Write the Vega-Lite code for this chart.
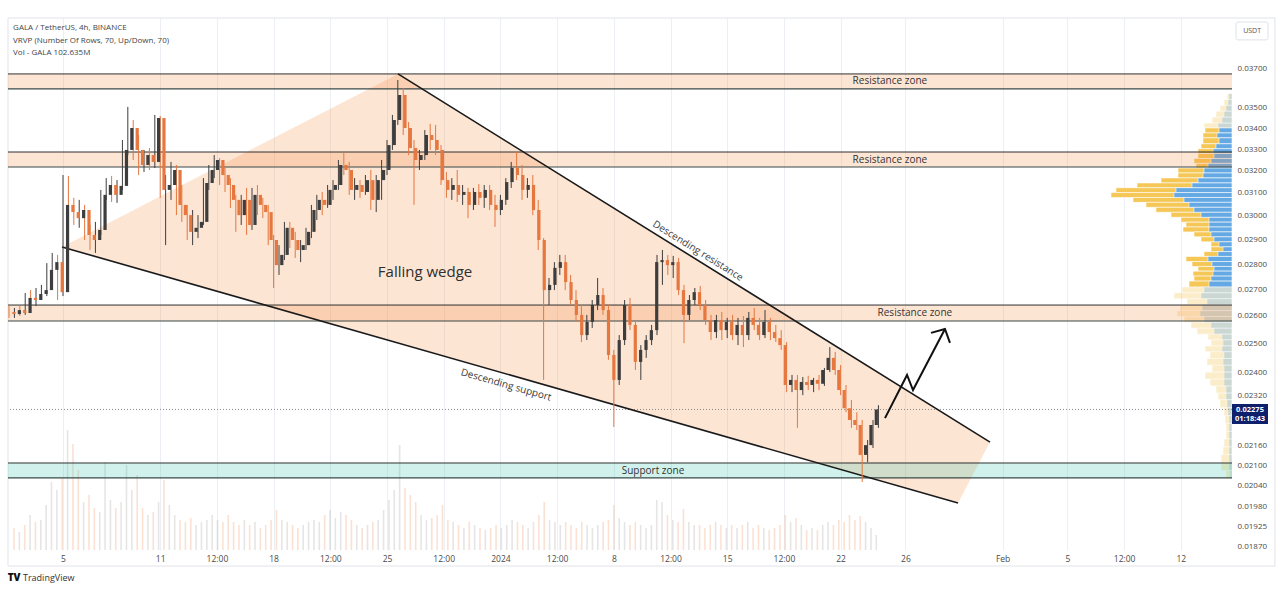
{
  "$schema": "https://vega.github.io/schema/vega-lite/v6.json",
  "width": 1224,
  "height": 532,
  "autosize": {"type": "none"},
  "padding": {"left": 8, "top": 18, "right": 48, "bottom": 42},
  "background": "white",
  "config": {"view": {"stroke": null}, "font": "Open Sans"},
  "datasets": {
    "candles": [
      {"t":"2023-12-01T16:00","o":0.02615,"h":0.02637,"l":0.02593,"c":0.02607,"v":154},
      {"t":"2023-12-02T00:00","o":0.02607,"h":0.0263,"l":0.02593,"c":0.02622,"v":126},
      {"t":"2023-12-02T08:00","o":0.02622,"h":0.02637,"l":0.026,"c":0.02611,"v":175},
      {"t":"2023-12-02T16:00","o":0.02611,"h":0.02687,"l":0.02604,"c":0.02668,"v":245},
      {"t":"2023-12-03T00:00","o":0.02668,"h":0.02698,"l":0.02649,"c":0.0266,"v":196},
      {"t":"2023-12-03T08:00","o":0.0266,"h":0.02706,"l":0.02637,"c":0.02683,"v":210},
      {"t":"2023-12-03T16:00","o":0.02683,"h":0.02718,"l":0.0266,"c":0.02698,"v":315},
      {"t":"2023-12-04T00:00","o":0.02698,"h":0.02804,"l":0.02675,"c":0.02777,"v":476},
      {"t":"2023-12-04T08:00","o":0.02777,"h":0.02845,"l":0.02757,"c":0.02808,"v":420},
      {"t":"2023-12-04T16:00","o":0.02808,"h":0.02837,"l":0.0266,"c":0.0269,"v":504},
      {"t":"2023-12-05T00:00","o":0.0269,"h":0.0318,"l":0.02675,"c":0.03047,"v":840},
      {"t":"2023-12-05T08:00","o":0.03047,"h":0.03176,"l":0.02974,"c":0.03016,"v":742},
      {"t":"2023-12-05T16:00","o":0.03016,"h":0.03078,"l":0.02961,"c":0.0299,"v":560},
      {"t":"2023-12-06T00:00","o":0.0299,"h":0.03069,"l":0.02949,"c":0.03025,"v":336},
      {"t":"2023-12-06T08:00","o":0.03025,"h":0.03047,"l":0.02898,"c":0.02919,"v":385},
      {"t":"2023-12-06T16:00","o":0.02919,"h":0.02961,"l":0.02857,"c":0.02898,"v":294},
      {"t":"2023-12-07T00:00","o":0.02898,"h":0.02974,"l":0.02845,"c":0.0294,"v":266},
      {"t":"2023-12-07T08:00","o":0.0294,"h":0.03113,"l":0.02919,"c":0.03091,"v":616},
      {"t":"2023-12-07T16:00","o":0.03091,"h":0.03166,"l":0.03069,"c":0.03135,"v":350},
      {"t":"2023-12-08T00:00","o":0.03135,"h":0.03176,"l":0.0306,"c":0.03091,"v":294},
      {"t":"2023-12-08T08:00","o":0.03091,"h":0.03157,"l":0.03056,"c":0.03131,"v":336},
      {"t":"2023-12-08T16:00","o":0.03131,"h":0.03343,"l":0.03113,"c":0.03296,"v":595},
      {"t":"2023-12-09T00:00","o":0.03296,"h":0.03505,"l":0.03272,"c":0.03401,"v":420},
      {"t":"2023-12-09T08:00","o":0.03401,"h":0.0344,"l":0.03249,"c":0.03296,"v":525},
      {"t":"2023-12-09T16:00","o":0.03296,"h":0.03367,"l":0.0318,"c":0.03226,"v":294},
      {"t":"2023-12-10T00:00","o":0.03226,"h":0.03296,"l":0.03194,"c":0.03272,"v":245},
      {"t":"2023-12-10T08:00","o":0.03272,"h":0.03305,"l":0.03203,"c":0.0324,"v":266},
      {"t":"2023-12-10T16:00","o":0.0324,"h":0.03465,"l":0.03212,"c":0.0345,"v":336},
      {"t":"2023-12-11T00:00","o":0.0345,"h":0.0346,"l":0.03078,"c":0.03113,"v":490},
      {"t":"2023-12-11T08:00","o":0.03113,"h":0.0318,"l":0.02877,"c":0.03135,"v":315},
      {"t":"2023-12-11T16:00","o":0.03135,"h":0.0324,"l":0.03069,"c":0.03203,"v":245},
      {"t":"2023-12-12T00:00","o":0.03203,"h":0.03226,"l":0.03003,"c":0.03047,"v":210},
      {"t":"2023-12-12T08:00","o":0.03047,"h":0.03135,"l":0.02974,"c":0.03003,"v":196},
      {"t":"2023-12-12T16:00","o":0.03003,"h":0.03047,"l":0.02898,"c":0.02932,"v":224},
      {"t":"2023-12-13T00:00","o":0.02932,"h":0.03025,"l":0.02877,"c":0.02949,"v":175},
      {"t":"2023-12-13T08:00","o":0.02949,"h":0.03003,"l":0.02906,"c":0.02974,"v":196},
      {"t":"2023-12-13T16:00","o":0.02974,"h":0.03166,"l":0.02961,"c":0.03144,"v":210},
      {"t":"2023-12-14T00:00","o":0.03144,"h":0.03226,"l":0.03113,"c":0.03203,"v":245},
      {"t":"2023-12-14T08:00","o":0.03203,"h":0.03272,"l":0.03166,"c":0.03249,"v":210},
      {"t":"2023-12-14T16:00","o":0.03249,"h":0.03258,"l":0.03135,"c":0.0318,"v":196},
      {"t":"2023-12-15T00:00","o":0.0318,"h":0.03212,"l":0.03104,"c":0.03135,"v":245},
      {"t":"2023-12-15T08:00","o":0.03135,"h":0.03166,"l":0.03034,"c":0.03069,"v":196},
      {"t":"2023-12-15T16:00","o":0.03069,"h":0.03091,"l":0.02932,"c":0.03003,"v":175},
      {"t":"2023-12-16T00:00","o":0.03003,"h":0.03091,"l":0.02961,"c":0.03069,"v":210},
      {"t":"2023-12-16T08:00","o":0.03069,"h":0.03122,"l":0.02919,"c":0.02961,"v":175},
      {"t":"2023-12-16T16:00","o":0.02961,"h":0.03122,"l":0.0294,"c":0.03091,"v":196},
      {"t":"2023-12-17T00:00","o":0.03091,"h":0.03135,"l":0.03003,"c":0.03047,"v":154},
      {"t":"2023-12-17T08:00","o":0.03047,"h":0.03078,"l":0.0299,"c":0.03016,"v":175},
      {"t":"2023-12-17T16:00","o":0.03016,"h":0.03047,"l":0.02877,"c":0.02898,"v":210},
      {"t":"2023-12-18T00:00","o":0.02898,"h":0.02919,"l":0.02706,"c":0.02796,"v":280},
      {"t":"2023-12-18T08:00","o":0.02796,"h":0.02877,"l":0.02757,"c":0.02837,"v":210},
      {"t":"2023-12-18T16:00","o":0.02837,"h":0.02974,"l":0.02816,"c":0.02949,"v":196},
      {"t":"2023-12-19T00:00","o":0.02949,"h":0.02974,"l":0.02865,"c":0.02898,"v":175},
      {"t":"2023-12-19T08:00","o":0.02898,"h":0.02932,"l":0.02825,"c":0.02857,"v":154},
      {"t":"2023-12-19T16:00","o":0.02857,"h":0.02898,"l":0.02808,"c":0.02877,"v":175},
      {"t":"2023-12-20T00:00","o":0.02877,"h":0.02949,"l":0.02857,"c":0.02932,"v":196},
      {"t":"2023-12-20T08:00","o":0.02932,"h":0.03047,"l":0.02906,"c":0.03025,"v":210},
      {"t":"2023-12-20T16:00","o":0.03025,"h":0.03091,"l":0.02982,"c":0.03069,"v":196},
      {"t":"2023-12-21T00:00","o":0.03069,"h":0.03104,"l":0.03003,"c":0.03047,"v":245},
      {"t":"2023-12-21T08:00","o":0.03047,"h":0.03135,"l":0.03034,"c":0.03113,"v":280},
      {"t":"2023-12-21T16:00","o":0.03113,"h":0.03157,"l":0.03069,"c":0.03135,"v":224},
      {"t":"2023-12-22T00:00","o":0.03135,"h":0.03249,"l":0.03113,"c":0.03226,"v":266},
      {"t":"2023-12-22T08:00","o":0.03226,"h":0.03286,"l":0.0318,"c":0.03203,"v":245},
      {"t":"2023-12-22T16:00","o":0.03203,"h":0.0324,"l":0.03091,"c":0.03113,"v":210},
      {"t":"2023-12-23T00:00","o":0.03113,"h":0.03166,"l":0.03069,"c":0.03135,"v":175},
      {"t":"2023-12-23T08:00","o":0.03135,"h":0.03157,"l":0.03078,"c":0.03104,"v":154},
      {"t":"2023-12-23T16:00","o":0.03104,"h":0.0318,"l":0.03091,"c":0.03157,"v":175},
      {"t":"2023-12-24T00:00","o":0.03157,"h":0.03203,"l":0.03025,"c":0.03069,"v":196},
      {"t":"2023-12-24T08:00","o":0.03069,"h":0.0318,"l":0.03016,"c":0.03157,"v":210},
      {"t":"2023-12-24T16:00","o":0.03157,"h":0.03249,"l":0.03069,"c":0.03203,"v":280},
      {"t":"2023-12-25T00:00","o":0.03203,"h":0.03343,"l":0.0318,"c":0.03319,"v":350},
      {"t":"2023-12-25T08:00","o":0.03319,"h":0.03465,"l":0.03296,"c":0.0344,"v":420},
      {"t":"2023-12-25T16:00","o":0.0344,"h":0.03642,"l":0.03416,"c":0.03565,"v":735},
      {"t":"2023-12-26T00:00","o":0.03565,"h":0.03601,"l":0.03367,"c":0.03401,"v":434},
      {"t":"2023-12-26T08:00","o":0.03401,"h":0.0343,"l":0.03272,"c":0.03305,"v":385},
      {"t":"2023-12-26T16:00","o":0.03305,"h":0.03343,"l":0.03047,"c":0.03249,"v":336},
      {"t":"2023-12-27T00:00","o":0.03249,"h":0.03296,"l":0.03203,"c":0.03272,"v":245},
      {"t":"2023-12-27T08:00","o":0.03272,"h":0.03391,"l":0.03249,"c":0.03367,"v":210},
      {"t":"2023-12-27T16:00","o":0.03367,"h":0.03421,"l":0.03296,"c":0.03343,"v":224},
      {"t":"2023-12-28T00:00","o":0.03343,"h":0.03416,"l":0.03272,"c":0.03296,"v":245},
      {"t":"2023-12-28T08:00","o":0.03296,"h":0.03319,"l":0.03135,"c":0.03157,"v":315},
      {"t":"2023-12-28T16:00","o":0.03157,"h":0.03194,"l":0.03078,"c":0.03113,"v":210},
      {"t":"2023-12-29T00:00","o":0.03113,"h":0.03166,"l":0.03069,"c":0.03135,"v":196},
      {"t":"2023-12-29T08:00","o":0.03135,"h":0.03203,"l":0.0306,"c":0.03091,"v":175},
      {"t":"2023-12-29T16:00","o":0.03091,"h":0.03135,"l":0.03047,"c":0.03104,"v":154},
      {"t":"2023-12-30T00:00","o":0.03104,"h":0.03122,"l":0.0299,"c":0.03047,"v":196},
      {"t":"2023-12-30T08:00","o":0.03047,"h":0.03122,"l":0.03025,"c":0.03104,"v":175},
      {"t":"2023-12-30T16:00","o":0.03104,"h":0.03139,"l":0.03047,"c":0.03078,"v":154},
      {"t":"2023-12-31T00:00","o":0.03078,"h":0.03135,"l":0.03034,"c":0.03113,"v":140},
      {"t":"2023-12-31T08:00","o":0.03113,"h":0.03135,"l":0.03025,"c":0.03047,"v":154},
      {"t":"2023-12-31T16:00","o":0.03047,"h":0.03091,"l":0.02953,"c":0.03025,"v":175},
      {"t":"2024-01-01T00:00","o":0.03025,"h":0.03091,"l":0.03003,"c":0.03069,"v":154},
      {"t":"2024-01-01T08:00","o":0.03069,"h":0.03166,"l":0.03047,"c":0.03148,"v":175},
      {"t":"2024-01-01T16:00","o":0.03148,"h":0.0324,"l":0.03122,"c":0.03212,"v":210},
      {"t":"2024-01-02T00:00","o":0.03212,"h":0.03286,"l":0.03157,"c":0.0318,"v":196},
      {"t":"2024-01-02T08:00","o":0.0318,"h":0.03226,"l":0.03069,"c":0.03113,"v":175},
      {"t":"2024-01-02T16:00","o":0.03113,"h":0.03166,"l":0.03078,"c":0.03135,"v":154},
      {"t":"2024-01-03T00:00","o":0.03135,"h":0.0318,"l":0.03003,"c":0.03025,"v":196},
      {"t":"2024-01-03T08:00","o":0.03025,"h":0.03069,"l":0.02857,"c":0.02898,"v":245},
      {"t":"2024-01-03T16:00","o":0.02898,"h":0.02906,"l":0.02373,"c":0.02698,"v":336},
      {"t":"2024-01-04T00:00","o":0.02698,"h":0.02745,"l":0.02641,"c":0.02718,"v":210},
      {"t":"2024-01-04T08:00","o":0.02718,"h":0.02808,"l":0.02698,"c":0.02785,"v":196},
      {"t":"2024-01-04T16:00","o":0.02785,"h":0.02837,"l":0.02757,"c":0.02808,"v":175},
      {"t":"2024-01-05T00:00","o":0.02808,"h":0.02837,"l":0.02698,"c":0.02729,"v":196},
      {"t":"2024-01-05T08:00","o":0.02729,"h":0.02757,"l":0.02641,"c":0.0266,"v":175},
      {"t":"2024-01-05T16:00","o":0.0266,"h":0.02698,"l":0.02578,"c":0.02604,"v":154},
      {"t":"2024-01-06T00:00","o":0.02604,"h":0.02641,"l":0.02505,"c":0.0253,"v":196},
      {"t":"2024-01-06T08:00","o":0.0253,"h":0.02604,"l":0.02512,"c":0.02578,"v":175},
      {"t":"2024-01-06T16:00","o":0.02578,"h":0.0266,"l":0.02556,"c":0.02641,"v":154},
      {"t":"2024-01-07T00:00","o":0.02641,"h":0.02745,"l":0.02622,"c":0.02679,"v":175},
      {"t":"2024-01-07T08:00","o":0.02679,"h":0.02706,"l":0.02604,"c":0.02622,"v":196},
      {"t":"2024-01-07T16:00","o":0.02622,"h":0.02641,"l":0.02442,"c":0.02459,"v":210},
      {"t":"2024-01-08T00:00","o":0.02459,"h":0.02477,"l":0.02219,"c":0.02373,"v":315},
      {"t":"2024-01-08T08:00","o":0.02373,"h":0.0253,"l":0.02356,"c":0.02512,"v":224},
      {"t":"2024-01-08T16:00","o":0.02512,"h":0.0266,"l":0.02494,"c":0.02641,"v":196},
      {"t":"2024-01-09T00:00","o":0.02641,"h":0.02668,"l":0.02548,"c":0.02567,"v":175},
      {"t":"2024-01-09T08:00","o":0.02567,"h":0.02585,"l":0.02407,"c":0.02435,"v":196},
      {"t":"2024-01-09T16:00","o":0.02435,"h":0.02494,"l":0.02373,"c":0.02477,"v":175},
      {"t":"2024-01-10T00:00","o":0.02477,"h":0.0253,"l":0.02449,"c":0.02512,"v":154},
      {"t":"2024-01-10T08:00","o":0.02512,"h":0.02567,"l":0.02494,"c":0.02548,"v":175},
      {"t":"2024-01-10T16:00","o":0.02548,"h":0.02837,"l":0.0253,"c":0.02808,"v":350},
      {"t":"2024-01-11T00:00","o":0.02808,"h":0.02857,"l":0.02718,"c":0.02816,"v":336},
      {"t":"2024-01-11T08:00","o":0.02816,"h":0.02837,"l":0.02757,"c":0.02796,"v":245},
      {"t":"2024-01-11T16:00","o":0.02796,"h":0.02833,"l":0.02745,"c":0.02808,"v":210},
      {"t":"2024-01-12T00:00","o":0.02808,"h":0.02825,"l":0.02679,"c":0.02698,"v":196},
      {"t":"2024-01-12T08:00","o":0.02698,"h":0.02718,"l":0.02501,"c":0.02604,"v":287},
      {"t":"2024-01-12T16:00","o":0.02604,"h":0.02679,"l":0.02585,"c":0.0266,"v":196},
      {"t":"2024-01-13T00:00","o":0.0266,"h":0.02706,"l":0.02641,"c":0.0269,"v":175},
      {"t":"2024-01-13T08:00","o":0.0269,"h":0.02714,"l":0.02622,"c":0.02641,"v":175},
      {"t":"2024-01-13T16:00","o":0.02641,"h":0.0266,"l":0.02567,"c":0.02585,"v":154},
      {"t":"2024-01-14T00:00","o":0.02585,"h":0.02604,"l":0.02512,"c":0.02541,"v":175},
      {"t":"2024-01-14T08:00","o":0.02541,"h":0.02604,"l":0.02519,"c":0.02585,"v":196},
      {"t":"2024-01-14T16:00","o":0.02585,"h":0.02615,"l":0.02512,"c":0.02548,"v":175},
      {"t":"2024-01-15T00:00","o":0.02548,"h":0.02593,"l":0.02519,"c":0.02578,"v":154},
      {"t":"2024-01-15T08:00","o":0.02578,"h":0.02604,"l":0.02512,"c":0.0253,"v":175},
      {"t":"2024-01-15T16:00","o":0.0253,"h":0.02593,"l":0.02494,"c":0.02567,"v":154},
      {"t":"2024-01-16T00:00","o":0.02567,"h":0.026,"l":0.02487,"c":0.0253,"v":175},
      {"t":"2024-01-16T08:00","o":0.0253,"h":0.02615,"l":0.02512,"c":0.02593,"v":196},
      {"t":"2024-01-16T16:00","o":0.02593,"h":0.0263,"l":0.02548,"c":0.02567,"v":154},
      {"t":"2024-01-17T00:00","o":0.02567,"h":0.02593,"l":0.02512,"c":0.0253,"v":175},
      {"t":"2024-01-17T08:00","o":0.0253,"h":0.02622,"l":0.02519,"c":0.02578,"v":154},
      {"t":"2024-01-17T16:00","o":0.02578,"h":0.02593,"l":0.02512,"c":0.02541,"v":140},
      {"t":"2024-01-18T00:00","o":0.02541,"h":0.02567,"l":0.02505,"c":0.02519,"v":154},
      {"t":"2024-01-18T08:00","o":0.02519,"h":0.02548,"l":0.02477,"c":0.02494,"v":175},
      {"t":"2024-01-18T16:00","o":0.02494,"h":0.02505,"l":0.02332,"c":0.02356,"v":245},
      {"t":"2024-01-19T00:00","o":0.02356,"h":0.0239,"l":0.02332,"c":0.02373,"v":196},
      {"t":"2024-01-19T08:00","o":0.02373,"h":0.0239,"l":0.02216,"c":0.02339,"v":224},
      {"t":"2024-01-19T16:00","o":0.02339,"h":0.02383,"l":0.02322,"c":0.02366,"v":175},
      {"t":"2024-01-20T00:00","o":0.02366,"h":0.02387,"l":0.02339,"c":0.02356,"v":140},
      {"t":"2024-01-20T08:00","o":0.02356,"h":0.0238,"l":0.02332,"c":0.02373,"v":154},
      {"t":"2024-01-20T16:00","o":0.02373,"h":0.0239,"l":0.02339,"c":0.0236,"v":140},
      {"t":"2024-01-21T00:00","o":0.0236,"h":0.02414,"l":0.02353,"c":0.02407,"v":175},
      {"t":"2024-01-21T08:00","o":0.02407,"h":0.02487,"l":0.024,"c":0.02449,"v":196},
      {"t":"2024-01-21T16:00","o":0.02449,"h":0.0247,"l":0.0239,"c":0.02407,"v":175},
      {"t":"2024-01-22T00:00","o":0.02407,"h":0.02424,"l":0.02322,"c":0.02339,"v":210},
      {"t":"2024-01-22T08:00","o":0.02339,"h":0.02356,"l":0.02266,"c":0.02279,"v":196},
      {"t":"2024-01-22T16:00","o":0.02279,"h":0.02306,"l":0.02216,"c":0.02241,"v":245},
      {"t":"2024-01-23T00:00","o":0.02241,"h":0.02266,"l":0.02209,"c":0.02225,"v":210},
      {"t":"2024-01-23T08:00","o":0.02225,"h":0.02241,"l":0.02051,"c":0.02132,"v":238},
      {"t":"2024-01-23T16:00","o":0.02132,"h":0.02178,"l":0.0211,"c":0.02162,"v":196},
      {"t":"2024-01-24T00:00","o":0.02162,"h":0.02241,"l":0.02153,"c":0.02225,"v":154},
      {"t":"2024-01-24T08:00","o":0.02225,"h":0.02289,"l":0.02216,"c":0.02275,"v":105}
    ],
    "vrvp": [
      {"lo":0.0356,"hi":0.03591,"up":3,"tot":5,"va":0},
      {"lo":0.0353,"hi":0.0356,"up":4,"tot":8,"va":0},
      {"lo":0.035,"hi":0.0353,"up":6,"tot":12,"va":0},
      {"lo":0.0347,"hi":0.035,"up":8,"tot":16,"va":0},
      {"lo":0.0344,"hi":0.0347,"up":10,"tot":20,"va":0},
      {"lo":0.03416,"hi":0.0344,"up":14,"tot":28,"va":0},
      {"lo":0.03391,"hi":0.03416,"up":13,"tot":27,"va":1},
      {"lo":0.03367,"hi":0.03391,"up":15,"tot":29,"va":1},
      {"lo":0.03338,"hi":0.03367,"up":13,"tot":29,"va":1},
      {"lo":0.03314,"hi":0.03338,"up":16,"tot":31,"va":1},
      {"lo":0.03291,"hi":0.03314,"up":19,"tot":34,"va":1},
      {"lo":0.03267,"hi":0.03291,"up":18,"tot":34,"va":1},
      {"lo":0.03244,"hi":0.03267,"up":21,"tot":38,"va":1},
      {"lo":0.03222,"hi":0.03244,"up":24,"tot":36,"va":1},
      {"lo":0.03199,"hi":0.03222,"up":28,"tot":54,"va":1},
      {"lo":0.03176,"hi":0.03199,"up":29,"tot":54,"va":1},
      {"lo":0.03153,"hi":0.03176,"up":34,"tot":71,"va":1},
      {"lo":0.03131,"hi":0.03153,"up":40,"tot":95,"va":1},
      {"lo":0.03109,"hi":0.03131,"up":56,"tot":116,"va":1},
      {"lo":0.03087,"hi":0.03109,"up":58,"tot":121,"va":1},
      {"lo":0.03065,"hi":0.03087,"up":48,"tot":99,"va":1},
      {"lo":0.03043,"hi":0.03065,"up":43,"tot":86,"va":1},
      {"lo":0.03021,"hi":0.03043,"up":38,"tot":76,"va":1},
      {"lo":0.02999,"hi":0.03021,"up":31,"tot":61,"va":1},
      {"lo":0.02978,"hi":0.02999,"up":23,"tot":51,"va":1},
      {"lo":0.02957,"hi":0.02978,"up":23,"tot":46,"va":1},
      {"lo":0.02936,"hi":0.02957,"up":23,"tot":49,"va":1},
      {"lo":0.02915,"hi":0.02936,"up":21,"tot":38,"va":1},
      {"lo":0.02894,"hi":0.02915,"up":18,"tot":31,"va":1},
      {"lo":0.02873,"hi":0.02894,"up":13,"tot":21,"va":1},
      {"lo":0.02853,"hi":0.02873,"up":9,"tot":21,"va":1},
      {"lo":0.02833,"hi":0.02853,"up":14,"tot":28,"va":1},
      {"lo":0.02812,"hi":0.02833,"up":24,"tot":46,"va":1},
      {"lo":0.02792,"hi":0.02812,"up":20,"tot":40,"va":1},
      {"lo":0.02773,"hi":0.02792,"up":18,"tot":34,"va":1},
      {"lo":0.02753,"hi":0.02773,"up":19,"tot":39,"va":1},
      {"lo":0.02733,"hi":0.02753,"up":21,"tot":38,"va":1},
      {"lo":0.0271,"hi":0.02733,"up":23,"tot":43,"va":1},
      {"lo":0.02687,"hi":0.0271,"up":28,"tot":50,"va":0},
      {"lo":0.02664,"hi":0.02687,"up":31,"tot":58,"va":0},
      {"lo":0.02641,"hi":0.02664,"up":25,"tot":45,"va":0},
      {"lo":0.02618,"hi":0.02641,"up":30,"tot":52,"va":0},
      {"lo":0.02596,"hi":0.02618,"up":32,"tot":55,"va":0},
      {"lo":0.02574,"hi":0.02596,"up":28,"tot":48,"va":0},
      {"lo":0.02552,"hi":0.02574,"up":21,"tot":41,"va":0},
      {"lo":0.0253,"hi":0.02552,"up":18,"tot":35,"va":0},
      {"lo":0.02509,"hi":0.0253,"up":10,"tot":24,"va":0},
      {"lo":0.02487,"hi":0.02509,"up":9,"tot":21,"va":0},
      {"lo":0.02466,"hi":0.02487,"up":10,"tot":27,"va":0},
      {"lo":0.02442,"hi":0.02466,"up":8,"tot":22,"va":0},
      {"lo":0.02418,"hi":0.02442,"up":9,"tot":25,"va":0},
      {"lo":0.02394,"hi":0.02418,"up":8,"tot":20,"va":0},
      {"lo":0.0237,"hi":0.02394,"up":8,"tot":27,"va":0},
      {"lo":0.02346,"hi":0.0237,"up":8,"tot":22,"va":0},
      {"lo":0.02322,"hi":0.02346,"up":6,"tot":16,"va":0},
      {"lo":0.023,"hi":0.02322,"up":6,"tot":14,"va":0},
      {"lo":0.02273,"hi":0.023,"up":5,"tot":12,"va":0},
      {"lo":0.02247,"hi":0.02273,"up":4,"tot":8,"va":0},
      {"lo":0.02222,"hi":0.02247,"up":3,"tot":7,"va":0},
      {"lo":0.02196,"hi":0.02222,"up":3,"tot":6,"va":0},
      {"lo":0.02172,"hi":0.02196,"up":3,"tot":6,"va":0},
      {"lo":0.02147,"hi":0.02172,"up":3,"tot":8,"va":0},
      {"lo":0.02123,"hi":0.02147,"up":3,"tot":9,"va":0},
      {"lo":0.02098,"hi":0.02123,"up":3,"tot":11,"va":0},
      {"lo":0.02074,"hi":0.02098,"up":3,"tot":11,"va":0},
      {"lo":0.02051,"hi":0.02074,"up":2,"tot":6,"va":0}
    ],
    "zones": [
      {"kind":"resistance","lo":0.03596,"hi":0.03674},
      {"kind":"resistance","lo":0.032167,"hi":0.032863},
      {"kind":"resistance","lo":0.025815,"hi":0.02641},
      {"kind":"support","lo":0.02063,"hi":0.021075}
    ]
  },
  "resolve": {"scale": {"x": "independent", "y": "independent"}},
  "layer": [
    {
      "data": {"values": [{"t0":"2023-12-01T14:30","t1":"2024-02-17T19:30","p0":0.01819,"p1":0.039796}]},
      "mark": {"type": "rect", "fillOpacity": 0, "stroke": "#e0e3eb", "strokeWidth": 1},
      "encoding": {
        "x": {"field": "t0", "type": "temporal", "axis": null, "scale": {"domain": [{"year":2023,"month":12,"date":1,"hours":14,"minutes":30},{"year":2024,"month":2,"date":15,"hours":3,"minutes":50}]}},
        "x2": {"field": "t1"},
        "y": {"field": "p0", "type": "quantitative", "axis": null, "scale": {"type":"log","domain":[0.018612,0.039796],"nice":false,"zero":false}},
        "y2": {"field": "p1"}
      }
    },
    {
      "data": {"name": "candles"},
      "mark": {"type": "bar", "width": 1.6, "opacity": 0.3},
      "encoding": {
        "x": {"field": "t", "type": "temporal", "axis": null, "scale": {"domain": [{"year":2023,"month":12,"date":1,"hours":14,"minutes":30},{"year":2024,"month":2,"date":15,"hours":3,"minutes":50}]}},
        "y": {"field": "v", "type": "quantitative", "axis": null, "scale": {"domain": [0, 3724], "nice": false}},
        "color": {"condition": {"test": "datum.c >= datum.o", "value": "#a8a8a8"}, "value": "#f09a70"}
      }
    },
    {
      "data": {"name": "vrvp"},
      "mark": {"type": "bar", "orient": "horizontal", "fill": "#f5c54e", "stroke": "white", "strokeWidth": 0.6},
      "encoding": {
        "x": {"field": "tot", "type": "quantitative", "axis": null, "scale": {"domain": [0, 1224], "reverse": true, "nice": false, "zero": true}},
        "y": {"field": "lo", "type": "quantitative", "axis": null, "scale": {"type":"log","domain":[0.018612,0.039796],"nice":false,"zero":false}},
        "y2": {"field": "hi"},
        "opacity": {"condition": {"test": "datum.va == 1", "value": 0.95}, "value": 0.3}
      }
    },
    {
      "data": {"name": "vrvp"},
      "mark": {"type": "bar", "orient": "horizontal", "fill": "#5ea8ec", "stroke": "white", "strokeWidth": 0.6},
      "encoding": {
        "x": {"field": "up", "type": "quantitative", "axis": null, "scale": {"domain": [0, 1224], "reverse": true, "nice": false, "zero": true}},
        "y": {"field": "lo", "type": "quantitative", "axis": null, "scale": {"type":"log","domain":[0.018612,0.039796],"nice":false,"zero":false}},
        "y2": {"field": "hi"},
        "opacity": {"condition": {"test": "datum.va == 1", "value": 0.95}, "value": 0.3}
      }
    },
    {
      "data": {"values": [
        {"t":"2023-12-04T22:31","top":0.028694,"bot":0.028694},
        {"t":"2023-12-25T16:18","top":0.03674,"bot":0.025017},
        {"t":"2024-01-29T05:56","top":0.022344,"bot":0.019903},
        {"t":"2024-01-31T05:20","top":0.021715,"bot":0.021715}
      ]},
      "mark": {"type": "area", "fill": "#f58a3c", "opacity": 0.22},
      "encoding": {
        "x": {"field": "t", "type": "temporal", "axis": null, "scale": {"domain": [{"year":2023,"month":12,"date":1,"hours":14,"minutes":30},{"year":2024,"month":2,"date":15,"hours":3,"minutes":50}]}},
        "y": {"field": "top", "type": "quantitative", "axis": null, "scale": {"type":"log","domain":[0.018612,0.039796],"nice":false,"zero":false}},
        "y2": {"field": "bot"}
      }
    },
    {
      "data": {"name": "zones"},
      "mark": {"type": "rect", "opacity": 0.22},
      "encoding": {
        "y": {"field": "lo", "type": "quantitative", "axis": null, "scale": {"type":"log","domain":[0.018612,0.039796],"nice":false,"zero":false}},
        "y2": {"field": "hi"},
        "color": {"condition": {"test": "datum.kind == 'support'", "value": "#2ec4a8"}, "value": "#f58a3c"}
      }
    },
    {
      "data": {"name": "zones"},
      "mark": {"type": "rule", "color": "#2f2f2f", "strokeWidth": 1},
      "encoding": {
        "y": {"field": "hi", "type": "quantitative", "axis": null, "scale": {"type":"log","domain":[0.018612,0.039796],"nice":false,"zero":false}}
      }
    },
    {
      "data": {"name": "zones"},
      "mark": {"type": "rule", "color": "#3a4a48", "strokeWidth": 1.2},
      "encoding": {
        "y": {"field": "lo", "type": "quantitative", "axis": null, "scale": {"type":"log","domain":[0.018612,0.039796],"nice":false,"zero":false}}
      }
    },
    {
      "data": {"values": [{"p": 0.02275}]},
      "mark": {"type": "rule", "color": "#8a8a8a", "strokeWidth": 1, "strokeDash": [1, 2]},
      "encoding": {
        "y": {"field": "p", "type": "quantitative", "axis": null, "scale": {"type":"log","domain":[0.018612,0.039796],"nice":false,"zero":false}}
      }
    },
    {
      "data": {"values": [
        {"line":"resistance","t":"2023-12-25T16:18","p":0.03674},
        {"line":"resistance","t":"2024-01-31T05:20","p":0.021715},
        {"line":"support","t":"2023-12-04T22:31","p":0.028694},
        {"line":"support","t":"2024-01-29T05:56","p":0.019903}
      ]},
      "mark": {"type": "line", "color": "#1a1a1a", "strokeWidth": 1.6},
      "encoding": {
        "x": {"field": "t", "type": "temporal", "axis": null, "scale": {"domain": [{"year":2023,"month":12,"date":1,"hours":14,"minutes":30},{"year":2024,"month":2,"date":15,"hours":3,"minutes":50}]}},
        "y": {"field": "p", "type": "quantitative", "axis": null, "scale": {"type":"log","domain":[0.018612,0.039796],"nice":false,"zero":false}},
        "detail": {"field": "line"}
      }
    },
    {
      "data": {"name": "candles"},
      "mark": {"type": "rule", "strokeWidth": 1},
      "encoding": {
        "x": {
          "field": "t", "type": "temporal",
          "scale": {"domain": [{"year":2023,"month":12,"date":1,"hours":14,"minutes":30},{"year":2024,"month":2,"date":15,"hours":3,"minutes":50}]},
          "axis": {
            "orient": "bottom", "title": null, "domain": false, "ticks": false,
            "grid": true, "gridColor": "#eceff3", "gridWidth": 1,
            "labelPadding": 4, "labelFontSize": 8.5, "labelColor": "#4a4a4a",
            "labelOverlap": false, "labelFlush": false,
            "values": [
              {"year":2023,"month":12,"date":5},
              {"year":2023,"month":12,"date":11},
              {"year":2023,"month":12,"date":14,"hours":12},
              {"year":2023,"month":12,"date":18},
              {"year":2023,"month":12,"date":21,"hours":12},
              {"year":2023,"month":12,"date":25},
              {"year":2023,"month":12,"date":28,"hours":12},
              {"year":2024,"month":1,"date":1},
              {"year":2024,"month":1,"date":4,"hours":12},
              {"year":2024,"month":1,"date":8},
              {"year":2024,"month":1,"date":11,"hours":12},
              {"year":2024,"month":1,"date":15},
              {"year":2024,"month":1,"date":18,"hours":12},
              {"year":2024,"month":1,"date":22},
              {"year":2024,"month":1,"date":26},
              {"year":2024,"month":2,"date":1},
              {"year":2024,"month":2,"date":5},
              {"year":2024,"month":2,"date":8,"hours":12},
              {"year":2024,"month":2,"date":12}
            ],
            "labelExpr": "hours(datum.value) == 12 ? '12:00' : (date(datum.value) == 1 ? (month(datum.value) == 0 ? '2024' : timeFormat(datum.value, '%b')) : timeFormat(datum.value, '%-d'))"
          }
        },
        "y": {
          "field": "l", "type": "quantitative",
          "scale": {"type":"log","domain":[0.018612,0.039796],"nice":false,"zero":false},
          "axis": {
            "orient": "right", "title": null, "domain": false, "ticks": false, "grid": false,
            "labelPadding": 5, "labelFontSize": 8, "labelColor": "#4a4a4a",
            "labelOverlap": false, "labelFlush": false, "format": ".5f",
            "values": [0.037, 0.035, 0.034, 0.033, 0.032, 0.031, 0.03, 0.029, 0.028, 0.027, 0.026, 0.025, 0.024, 0.0232, 0.0216, 0.021, 0.0204, 0.0198, 0.01925, 0.0187]
          }
        },
        "y2": {"field": "h"},
        "color": {"condition": {"test": "datum.c >= datum.o", "value": "#3d3d3d"}, "value": "#e5773f"}
      }
    },
    {
      "data": {"name": "candles"},
      "mark": {"type": "bar", "width": 3.2},
      "encoding": {
        "x": {"field": "t", "type": "temporal", "axis": null, "scale": {"domain": [{"year":2023,"month":12,"date":1,"hours":14,"minutes":30},{"year":2024,"month":2,"date":15,"hours":3,"minutes":50}]}},
        "y": {"field": "o", "type": "quantitative", "axis": null, "scale": {"type":"log","domain":[0.018612,0.039796],"nice":false,"zero":false}},
        "y2": {"field": "c"},
        "color": {"condition": {"test": "datum.c >= datum.o", "value": "#3d3d3d"}, "value": "#e5773f"}
      }
    },
    {
      "data": {"values": [
        {"seg":"body","i":1,"t":"2024-01-24T17:45","p":0.02247},
        {"seg":"body","i":2,"t":"2024-01-26T02:25","p":0.0239},
        {"seg":"body","i":3,"t":"2024-01-26T11:15","p":0.02339},
        {"seg":"body","i":4,"t":"2024-01-28T10:35","p":0.02552},
        {"seg":"head","i":1,"t":"2024-01-27T13:55","p":0.02538},
        {"seg":"head","i":2,"t":"2024-01-28T10:35","p":0.02552},
        {"seg":"head","i":3,"t":"2024-01-28T18:00","p":0.02502}
      ]},
      "mark": {"type": "line", "color": "#111111", "strokeWidth": 2},
      "encoding": {
        "x": {"field": "t", "type": "temporal", "axis": null, "scale": {"domain": [{"year":2023,"month":12,"date":1,"hours":14,"minutes":30},{"year":2024,"month":2,"date":15,"hours":3,"minutes":50}]}},
        "y": {"field": "p", "type": "quantitative", "axis": null, "scale": {"type":"log","domain":[0.018612,0.039796],"nice":false,"zero":false}},
        "detail": {"field": "seg"},
        "order": {"field": "i"}
      }
    },
    {
      "data": {"values": [
        {"t":"2024-01-25T01:00","p":0.03635,"label":"Resistance zone"},
        {"t":"2024-01-25T01:00","p":0.03251,"label":"Resistance zone"},
        {"t":"2024-01-26T14:00","p":0.02611,"label":"Resistance zone"},
        {"t":"2024-01-10T10:00","p":0.02085,"label":"Support zone"}
      ]},
      "mark": {"type": "text", "fontSize": 10, "color": "#333333", "align": "center", "baseline": "middle"},
      "encoding": {
        "x": {"field": "t", "type": "temporal", "axis": null, "scale": {"domain": [{"year":2023,"month":12,"date":1,"hours":14,"minutes":30},{"year":2024,"month":2,"date":15,"hours":3,"minutes":50}]}},
        "y": {"field": "p", "type": "quantitative", "axis": null, "scale": {"type":"log","domain":[0.018612,0.039796],"nice":false,"zero":false}},
        "text": {"field": "label"}
      }
    },
    {
      "data": {"values": [{"t":"2023-12-27T08:20","p":0.02768,"label":"Falling wedge"}]},
      "mark": {"type": "text", "fontSize": 15, "color": "#2e2e2e", "align": "center", "baseline": "middle"},
      "encoding": {
        "x": {"field": "t", "type": "temporal", "axis": null, "scale": {"domain": [{"year":2023,"month":12,"date":1,"hours":14,"minutes":30},{"year":2024,"month":2,"date":15,"hours":3,"minutes":50}]}},
        "y": {"field": "p", "type": "quantitative", "axis": null, "scale": {"type":"log","domain":[0.018612,0.039796],"nice":false,"zero":false}},
        "text": {"field": "label"}
      }
    },
    {
      "data": {"values": [{"t":"2024-01-13T04:40","p":0.02853,"label":"Descending resistance"}]},
      "mark": {"type": "text", "fontSize": 10, "color": "#3a3a3a", "align": "center", "baseline": "middle", "angle": 32},
      "encoding": {
        "x": {"field": "t", "type": "temporal", "axis": null, "scale": {"domain": [{"year":2023,"month":12,"date":1,"hours":14,"minutes":30},{"year":2024,"month":2,"date":15,"hours":3,"minutes":50}]}},
        "y": {"field": "p", "type": "quantitative", "axis": null, "scale": {"type":"log","domain":[0.018612,0.039796],"nice":false,"zero":false}},
        "text": {"field": "label"}
      }
    },
    {
      "data": {"values": [{"t":"2024-01-01T08:20","p":0.02356,"label":"Descending support"}]},
      "mark": {"type": "text", "fontSize": 10, "color": "#3a3a3a", "align": "center", "baseline": "middle", "angle": 16},
      "encoding": {
        "x": {"field": "t", "type": "temporal", "axis": null, "scale": {"domain": [{"year":2023,"month":12,"date":1,"hours":14,"minutes":30},{"year":2024,"month":2,"date":15,"hours":3,"minutes":50}]}},
        "y": {"field": "p", "type": "quantitative", "axis": null, "scale": {"type":"log","domain":[0.018612,0.039796],"nice":false,"zero":false}},
        "text": {"field": "label"}
      }
    },
    {
      "data": {"values": [
        {"t":"2023-12-01T22:00","p":0.03923,"label":"GALA / TetherUS, 4h, BINANCE"},
        {"t":"2023-12-01T22:00","p":0.03851,"label":"VRVP (Number Of Rows, 70, Up/Down, 70)"},
        {"t":"2023-12-01T22:00","p":0.03786,"label":"Vol - GALA  102.635M"}
      ]},
      "mark": {"type": "text", "fontSize": 8, "color": "#444444", "align": "left", "baseline": "middle"},
      "encoding": {
        "x": {"field": "t", "type": "temporal", "axis": null, "scale": {"domain": [{"year":2023,"month":12,"date":1,"hours":14,"minutes":30},{"year":2024,"month":2,"date":15,"hours":3,"minutes":50}]}},
        "y": {"field": "p", "type": "quantitative", "axis": null, "scale": {"type":"log","domain":[0.018612,0.039796],"nice":false,"zero":false}},
        "text": {"field": "label"}
      }
    },
    {
      "data": {"values": [{"t0":"2024-02-15T03:50","t1":"2024-02-17T09:10","p0":0.02228,"p1":0.02293}]},
      "mark": {"type": "rect", "fill": "#0e1f6b"},
      "encoding": {
        "x": {"field": "t0", "type": "temporal", "axis": null, "scale": {"domain": [{"year":2023,"month":12,"date":1,"hours":14,"minutes":30},{"year":2024,"month":2,"date":15,"hours":3,"minutes":50}]}},
        "x2": {"field": "t1"},
        "y": {"field": "p0", "type": "quantitative", "axis": null, "scale": {"type":"log","domain":[0.018612,0.039796],"nice":false,"zero":false}},
        "y2": {"field": "p1"}
      }
    },
    {
      "data": {"values": [
        {"t":"2024-02-16T06:30","p":0.02273,"label":"0.02275"},
        {"t":"2024-02-16T06:30","p":0.02244,"label":"01:18:43"}
      ]},
      "mark": {"type": "text", "fontSize": 7.5, "color": "white", "align": "center", "baseline": "middle", "fontWeight": "bold"},
      "encoding": {
        "x": {"field": "t", "type": "temporal", "axis": null, "scale": {"domain": [{"year":2023,"month":12,"date":1,"hours":14,"minutes":30},{"year":2024,"month":2,"date":15,"hours":3,"minutes":50}]}},
        "y": {"field": "p", "type": "quantitative", "axis": null, "scale": {"type":"log","domain":[0.018612,0.039796],"nice":false,"zero":false}},
        "text": {"field": "label"}
      }
    },
    {
      "data": {"values": [{"t0":"2024-02-15T09:50","t1":"2024-02-17T09:10","p0":0.03857,"p1":0.03957}]},
      "mark": {"type": "rect", "fill": "white", "stroke": "#dfe2e8", "strokeWidth": 1, "cornerRadius": 2},
      "encoding": {
        "x": {"field": "t0", "type": "temporal", "axis": null, "scale": {"domain": [{"year":2023,"month":12,"date":1,"hours":14,"minutes":30},{"year":2024,"month":2,"date":15,"hours":3,"minutes":50}]}},
        "x2": {"field": "t1"},
        "y": {"field": "p0", "type": "quantitative", "axis": null, "scale": {"type":"log","domain":[0.018612,0.039796],"nice":false,"zero":false}},
        "y2": {"field": "p1"}
      }
    },
    {
      "data": {"values": [{"t":"2024-02-16T09:35","p":0.03906,"label":"USDT"}]},
      "mark": {"type": "text", "fontSize": 7, "color": "#555555", "align": "center", "baseline": "middle"},
      "encoding": {
        "x": {"field": "t", "type": "temporal", "axis": null, "scale": {"domain": [{"year":2023,"month":12,"date":1,"hours":14,"minutes":30},{"year":2024,"month":2,"date":15,"hours":3,"minutes":50}]}},
        "y": {"field": "p", "type": "quantitative", "axis": null, "scale": {"type":"log","domain":[0.018612,0.039796],"nice":false,"zero":false}},
        "text": {"field": "label"}
      }
    },
    {
      "data": {"values": [{"t":"2023-12-01T23:30","p":0.01788,"label":"TV"}]},
      "mark": {"type": "text", "fontSize": 10, "color": "#111111", "align": "center", "baseline": "middle", "fontWeight": 900},
      "encoding": {
        "x": {"field": "t", "type": "temporal", "axis": null, "scale": {"domain": [{"year":2023,"month":12,"date":1,"hours":14,"minutes":30},{"year":2024,"month":2,"date":15,"hours":3,"minutes":50}]}},
        "y": {"field": "p", "type": "quantitative", "axis": null, "scale": {"type":"log","domain":[0.018612,0.039796],"nice":false,"zero":false}},
        "text": {"field": "label"}
      }
    },
    {
      "data": {"values": [{"t":"2023-12-02T12:40","p":0.01788,"label":"TradingView"}]},
      "mark": {"type": "text", "fontSize": 9, "color": "#333333", "align": "left", "baseline": "middle"},
      "encoding": {
        "x": {"field": "t", "type": "temporal", "axis": null, "scale": {"domain": [{"year":2023,"month":12,"date":1,"hours":14,"minutes":30},{"year":2024,"month":2,"date":15,"hours":3,"minutes":50}]}},
        "y": {"field": "p", "type": "quantitative", "axis": null, "scale": {"type":"log","domain":[0.018612,0.039796],"nice":false,"zero":false}},
        "text": {"field": "label"}
      }
    }
  ]
}
